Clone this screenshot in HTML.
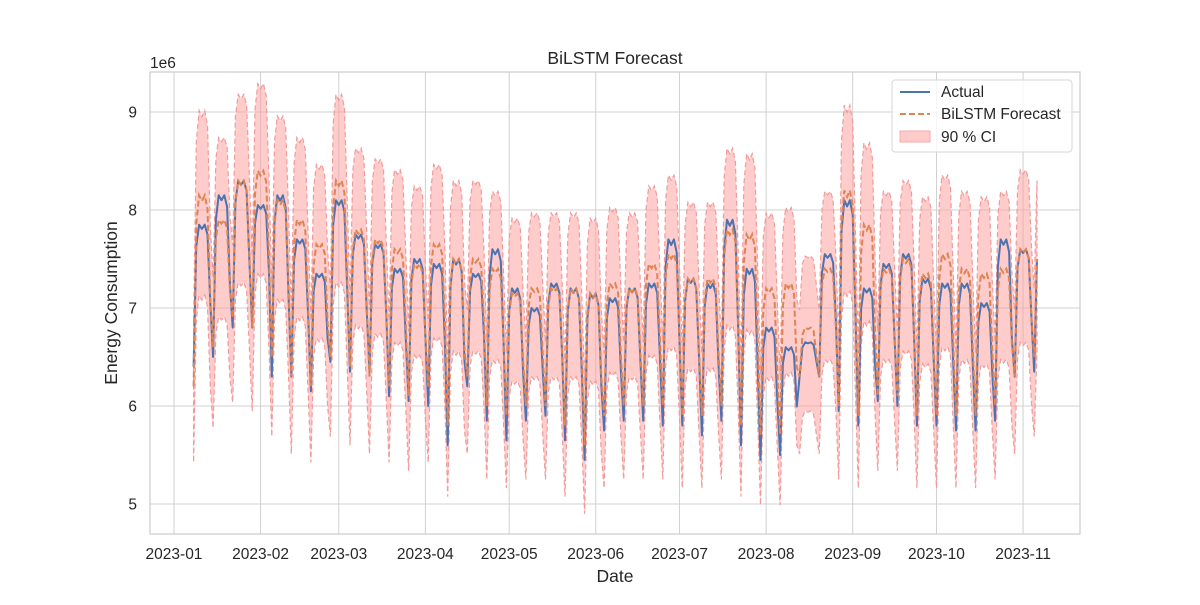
<!DOCTYPE html>
<html><head><meta charset="utf-8"><style>
body{margin:0;background:#fff;font-family:"Liberation Sans","DejaVu Sans",sans-serif}
svg text{font-family:"Liberation Sans","DejaVu Sans",sans-serif;fill:#262626}
</style></head><body>
<svg id="chart" width="1200" height="600" viewBox="0 0 1200 600">
<rect width="1200" height="600" fill="#fff"/>
<g id="grid"></g>
<g id="band"></g>
<g id="lines"></g>
<rect x="150" y="72" width="930" height="462" fill="none" stroke="#cccccc" stroke-width="1.2"/>
<g id="ticks"></g>
<text x="615" y="64" text-anchor="middle" font-size="17.5">BiLSTM Forecast</text>
<text x="150" y="68" font-size="15.5">1e6</text>
<text x="117" y="303" text-anchor="middle" font-size="17.5" transform="rotate(-90 117 303)">Energy Consumption</text>
<text x="615" y="582" text-anchor="middle" font-size="17.5">Date</text>
<g>
<rect x="892" y="80" width="180" height="72" rx="3" fill="#fff" fill-opacity="0.8" stroke="#d6d6d6"/>
<line x1="900" y1="92" x2="930" y2="92" stroke="#4c72b0" stroke-width="2"/>
<text x="941" y="97" font-size="15.5">Actual</text>
<line x1="900" y1="114" x2="930" y2="114" stroke="#dd8452" stroke-width="2" stroke-dasharray="6,3"/>
<text x="941" y="119" font-size="15.5">BiLSTM Forecast</text>
<rect x="900" y="131" width="30" height="11" fill="#ffcaca" stroke="#f7a8a8"/>
<text x="941" y="142" font-size="15.5">90 % CI</text>
</g>
</svg>
<script>
const startDay = 7; // Jan 8 2023 (days since Jan 1)
const sundayLow = [6.4,6.5,6.8,6.8,6.3,6.3,6.15,6.45,6.35,6.35,6.1,6.05,6.0,5.6,6.2,5.85,5.65,5.85,5.9,5.65,5.45,5.75,5.85,5.85,5.8,5.8,5.7,5.85,5.6,5.45,5.5,6.3,6.3,5.95,5.8,6.05,6.0,5.8,5.8,5.75,5.75,5.85,6.3,6.35];
const weekHigh = [7.85,8.15,8.3,8.05,8.15,7.7,7.35,8.1,7.75,7.65,7.4,7.5,7.45,7.5,7.35,7.6,7.2,7.0,7.25,7.2,7.15,7.1,7.2,7.25,7.7,7.3,7.25,7.9,7.4,6.8,6.6,6.65,7.55,8.1,7.2,7.45,7.55,7.3,7.25,7.25,7.05,7.7,7.6];
const fSundayLow = [6.2,6.6,6.9,6.8,6.5,6.3,6.2,6.5,6.4,6.3,6.2,6.1,6.2,5.8,6.3,6.0,5.9,6.0,6.0,5.8,5.6,5.9,6.0,6.0,6.0,5.9,5.9,6.0,5.8,5.7,5.7,6.3,6.3,6.0,5.9,6.1,6.1,5.9,5.9,5.9,5.9,6.0,6.3,6.5];
const fWeekHigh = [8.15,7.9,8.3,8.4,8.1,7.9,7.65,8.3,7.8,7.7,7.6,7.45,7.65,7.5,7.5,7.4,7.15,7.2,7.2,7.2,7.15,7.25,7.2,7.45,7.55,7.3,7.3,7.8,7.75,7.2,7.25,6.8,7.4,8.2,7.85,7.4,7.5,7.35,7.55,7.4,7.35,7.4,7.6];
const dayShape = [0,0.85,1,0.97,1,0.93,0.45]; // Sun..Sat fraction between low and high
const yTicks = [5,6,7,8,9];
const xTickLabels = ["2023-01","2023-02","2023-03","2023-04","2023-05","2023-06","2023-07","2023-08","2023-09","2023-10","2023-11"];
const xTickDays = [0,31,59,90,120,151,181,212,243,273,304];

const X = d => 174 + d*2.793;
const Y = v => 504 - (v-5)*98;
const NS="http://www.w3.org/2000/svg";
function mk(tag,attrs,parent){const e=document.createElementNS(NS,tag);for(const k in attrs)e.setAttribute(k,attrs[k]);parent.appendChild(e);return e;}

function build(lowArr,highArr){
  const out=[];
  for(let w=0;w<highArr.length;w++){
    for(let d=0;d<7;d++){
      const lo=lowArr[w], hi=highArr[w];
      out.push(lo+(hi-lo)*dayShape[d]);
    }
  }
  out.push(lowArr[highArr.length]);
  out.push(highArr[highArr.length-1]-0.1);
  return out;
}
const actual = build(sundayLow,weekHigh);
const forecast = build(fSundayLow,fWeekHigh);

const grid=document.getElementById('grid'), ticks=document.getElementById('ticks');
yTicks.forEach(v=>{
  const l=mk('line',{x1:150,x2:1080,y1:Y(v),y2:Y(v),stroke:'#d0d0d0','stroke-width':1},grid);
  
  
  const t=mk('text',{x:137,y:Y(v)+5.5,'text-anchor':'end','font-size':15.5},ticks);
  t.textContent=v;
  
  
});
xTickDays.forEach((d,i)=>{
  const l=mk('line',{x1:X(d),x2:X(d),y1:72,y2:534,stroke:'#d0d0d0','stroke-width':1},grid);
  
  
  const t=mk('text',{x:X(d),y:559,'text-anchor':'middle','font-size':15.5},ticks);
  t.textContent=xTickLabels[i];
  
  
});

const upper=forecast.map(f=>f*1.1+0.05), lower=forecast.map(f=>f*0.875);
let up='';
upper.forEach((v,i)=>{up+=(i?'L':'M')+X(startDay+i).toFixed(1)+','+Y(v).toFixed(1);});
for(let i=lower.length-1;i>=0;i--){up+='L'+X(startDay+i).toFixed(1)+','+Y(lower[i]).toFixed(1);}
const band=document.getElementById('band');
const bp=mk('path',{d:up+'Z',fill:'#ff9999','fill-opacity':0.5,stroke:'#f29a9a','stroke-width':1.2,'stroke-dasharray':'5,3'},band);



function linePath(arr){return arr.map((v,i)=>(i?'L':'M')+X(startDay+i).toFixed(1)+','+Y(v).toFixed(1)).join('');}
const lines=document.getElementById('lines');
const a=mk('path',{d:linePath(actual),fill:'none',stroke:'#4c72b0','stroke-width':2,'stroke-linejoin':'round'},lines);


const f=mk('path',{d:linePath(forecast),fill:'none',stroke:'#dd8452','stroke-width':2,'stroke-dasharray':'6,3'},lines);


</script>
</body></html>
